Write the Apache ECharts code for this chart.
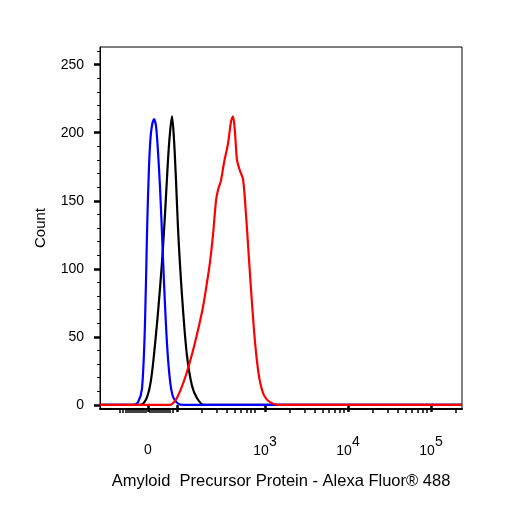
<!DOCTYPE html>
<html><head><meta charset="utf-8">
<script src="https://cdn.jsdelivr.net/npm/echarts@6/dist/echarts.min.js"></script>
<style>html,body{margin:0;padding:0;background:#fff}#c{width:506px;height:506px}</style>
</head><body><div id="c"></div>
<script>
// x in display channel units (0..362), y in counts
const blue = [[0,0],[33,0],[38,2],[42,12],[45,60],[47,126],[49,175],[51,200],[54,210],[56,205],[58,186],[60,160],[62,126],[64,90],[67,45],[70,18],[73,6],[78,1],[84,0],[362,0]];
const black = [[0,0],[40,0],[46,4],[50,14],[53,30],[58,68],[62,105],[65,140],[68,180],[70,200],[72,212],[74,195],[76,165],[78,130],[80,103],[83,70],[87,36],[92,14],[97,5],[104,0],[362,0]];
const red = [[0,0],[70,0],[76,4],[80,10],[86,22],[93,40],[98,55],[103,72],[107,90],[110,105],[113,125],[116,150],[118,158],[121,165],[124,178],[128,192],[131,208],[133,212],[135,200],[137,180],[140,172],[143,166],[146,140],[148,118],[151,85],[154,55],[157,32],[160,17],[164,7],[170,2],[178,0],[362,0]];
const xLabelPos = [48,165,248,331];
const xLabels = ['0','10|3','10|4','10|5'];
const xMajorTicks = [48,77,165,248,331];
const xMinorTicks = [20,23,26,28,30,32,34,36,38,40,42,44,46,50,52,54,56,58,60,62,64,66,68,70,73,102,117,127,135,141,147,151,155,190,205,215,223,229,235,240,244,273,288,298,306,312,318,323,327,356];
const yLabels = [0,50,100,150,200,250];
const yMinor = [];
for (let v=0; v<=260; v+=10) yMinor.push(v);

const chart = echarts.init(document.getElementById('c'));
const lbl = {fontFamily:'Liberation Sans, Arial', fontSize:14, color:'#000'};
chart.setOption({
  animation:false,
  grid:{left:100,right:44,top:47,bottom:97,show:true,borderColor:'#000',borderWidth:1},
  xAxis:[{type:'value',min:0,max:362,
    axisLine:{show:true,onZero:false,lineStyle:{color:'#000',width:2}},
    splitLine:{show:false},
    axisTick:{show:true,customValues:xMinorTicks,length:4,lineStyle:{color:'#000',width:1.5}},
    axisLabel:{show:true,customValues:xLabelPos,margin:26,
      formatter:function(v){const i=xLabelPos.indexOf(v);const s=xLabels[i]||'';if(s.indexOf('|')<0)return '{b|'+s+'}';const p=s.split('|');return '{b|'+p[0]+'}{s|'+p[1]+'}';},
      rich:{b:{...lbl,fontSize:14,padding:[8,0,0,0]},s:{...lbl,fontSize:14,padding:[0,0,10,0]}}},
    name:'Amyloid  Precursor Protein - Alexa Fluor® 488',nameLocation:'middle',nameGap:64,
    nameTextStyle:{...lbl,fontSize:16.5,padding:[0,0,0,0]}},
   {type:'value',min:0,max:362,position:'bottom',
    axisLine:{show:false},splitLine:{show:false},axisLabel:{show:false},
    axisTick:{show:true,customValues:xMajorTicks,length:7,lineStyle:{color:'#000',width:2.5}}}],
  yAxis:[{type:'value',min:-3,max:263,
    axisLine:{show:true,lineStyle:{color:'#000',width:1}},
    splitLine:{show:false},
    axisTick:{show:true,customValues:yLabels,length:6,lineStyle:{color:'#000',width:2.5}},
    axisLabel:{show:true,customValues:yLabels,...lbl,margin:16},
    name:'Count',nameLocation:'middle',nameGap:52,nameTextStyle:{...lbl,fontSize:15}},
   {type:'value',min:-3,max:263,position:'left',
    axisLine:{show:false},splitLine:{show:false},axisLabel:{show:false},
    axisTick:{show:true,customValues:yMinor,length:3,lineStyle:{color:'#000',width:1}}}],
  series:[
    {type:'line',data:blue,smooth:0.3,showSymbol:false,lineStyle:{color:'#0000ff',width:2.2},z:3},
    {type:'line',data:black,smooth:0.3,showSymbol:false,lineStyle:{color:'#000',width:2.2},z:2},
    {type:'line',data:red,smooth:0.3,showSymbol:false,lineStyle:{color:'#ff0000',width:2.2},z:4}
  ]
});
</script></body></html>
